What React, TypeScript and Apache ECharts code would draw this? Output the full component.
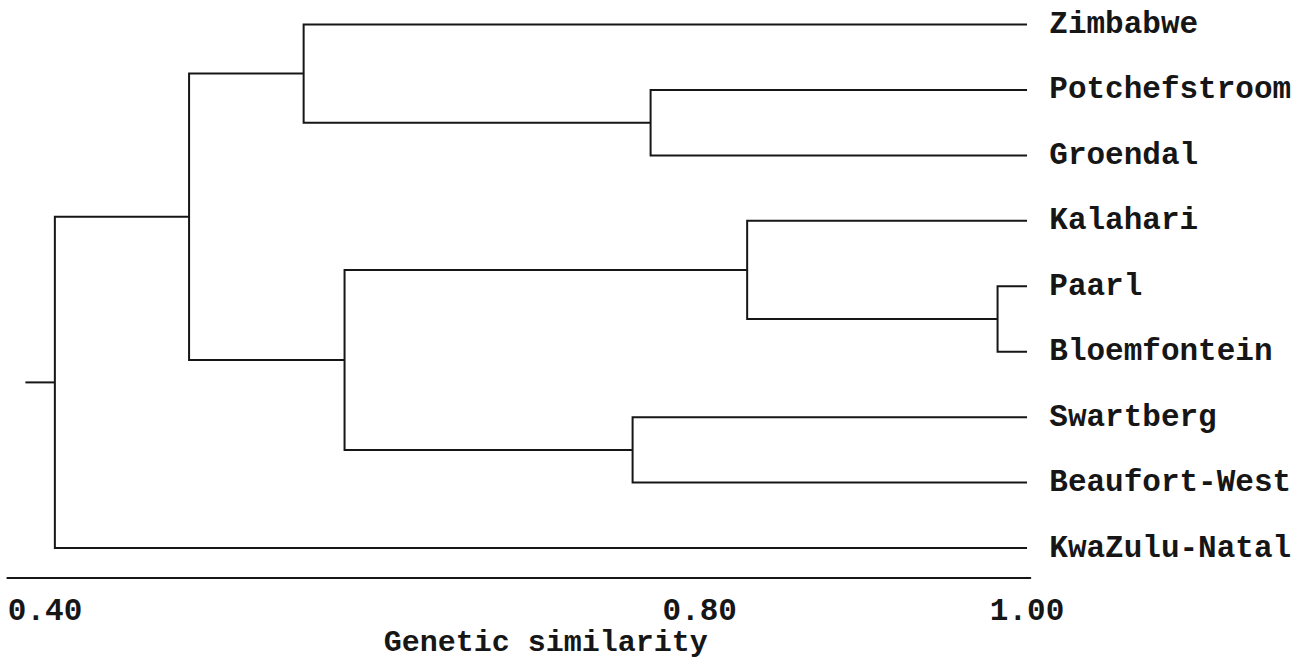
import React, { useEffect, useRef } from "react";
import * as echarts from "echarts";

// Leaves, top to bottom
const leaves = [
  "Zimbabwe",
  "Potchefstroom",
  "Groendal",
  "Kalahari",
  "Paarl",
  "Bloemfontein",
  "Swartberg",
  "Beaufort-West",
  "KwaZulu-Natal",
];

// Agglomerative merges (cluster ids C1..C8), with genetic similarity at which they join
const mergeIds = ["C1", "C2", "C3", "C4", "C5", "C6", "C7", "C8"];
const mergeA = ["Potchefstroom", "Paarl", "Swartberg", "Zimbabwe", "Kalahari", "C5", "C4", "C7"];
const mergeB = ["Groendal", "Bloemfontein", "Beaufort-West", "C1", "C2", "C3", "C6", "KwaZulu-Natal"];
const mergeSimilarity = [0.77, 0.982, 0.759, 0.558, 0.829, 0.583, 0.488, 0.406];

const leafSimilarity = 1.0;
const rootStubStart = 0.388;

const tickValues = [0.4, 0.8, 1.0];
const xMin = 0.377;
const xMax = 1.002;

const FONT = "'Liberation Mono', 'Courier New', monospace";
const INK = "#161616";

export default function App() {
  const ref = useRef<HTMLDivElement>(null);

  useEffect(() => {
    if (!ref.current) return;
    const chart = echarts.init(ref.current, undefined, { renderer: "svg" });

    // layout: row & similarity for every node
    const row: Record<string, number> = {};
    const sim: Record<string, number> = {};
    leaves.forEach((n, i) => {
      row[n] = i;
      sim[n] = leafSimilarity;
    });
    mergeIds.forEach((id, i) => {
      row[id] = (row[mergeA[i]] + row[mergeB[i]]) / 2;
      sim[id] = mergeSimilarity[i];
    });
    const rootId = mergeIds[mergeIds.length - 1];

    const data = mergeIds.map((id, i) => [i]);
    data.push([-1]);

    const lineStyle = { stroke: INK, lineWidth: 2, fill: "none" };

    chart.setOption({
      animation: false,
      backgroundColor: "#ffffff",
      grid: {
        left: 7.4,
        right: 273.7,
        top: 1.6,
        bottom: 83.5,
        containLabel: false,
        outerBoundsMode: "none",
      },
      xAxis: {
        type: "value",
        min: xMin,
        max: xMax,
        position: "bottom",
        splitLine: { show: false },
        axisTick: { show: false },
        axisLine: { show: true, onZero: false, lineStyle: { color: INK, width: 2 } },
        axisLabel: {
          customValues: tickValues,
          formatter: (v: number) => v.toFixed(2),
          fontFamily: FONT,
          fontWeight: "bold",
          fontSize: 31,
          color: INK,
          margin: 18,
        },
        name: "Genetic similarity",
        nameLocation: "middle",
        nameGap: 50,
        nameMoveOverlap: false,
        nameTextStyle: {
          fontFamily: FONT,
          fontWeight: "bold",
          fontSize: 30,
          lineHeight: 30,
          color: INK,
          padding: [0, 0, 0, 54],
        },
      },
      yAxis: {
        type: "value",
        inverse: true,
        min: -0.35,
        max: 8.45,
        position: "right",
        splitLine: { show: false },
        axisTick: { show: false },
        axisLine: { show: false },
        axisLabel: {
          customValues: leaves.map((_, i) => i),
          formatter: (v: number) => leaves[Math.round(v)] ?? "",
          fontFamily: FONT,
          fontWeight: "bold",
          fontSize: 31,
          color: INK,
          margin: 19,
        },
      },
      series: [
        {
          type: "custom",
          clip: false,
          data,
          renderItem: (params: any, api: any) => {
            const i = api.value(0);
            if (i < 0) {
              const a = api.coord([rootStubStart, row[rootId]]);
              const b = api.coord([sim[rootId], row[rootId]]);
              return { type: "polyline", shape: { points: [a, b] }, style: lineStyle };
            }
            const id = mergeIds[i];
            const A = mergeA[i];
            const B = mergeB[i];
            const pts = [
              api.coord([sim[A], row[A]]),
              api.coord([sim[id], row[A]]),
              api.coord([sim[id], row[B]]),
              api.coord([sim[B], row[B]]),
            ];
            return { type: "polyline", shape: { points: pts }, style: lineStyle };
          },
        },
      ],
    });

    return () => chart.dispose();
  }, []);

  return (
    <div
      ref={ref}
      style={{ position: "fixed", left: 0, top: 0, width: 1304, height: 661, background: "#fff" }}
    />
  );
}
